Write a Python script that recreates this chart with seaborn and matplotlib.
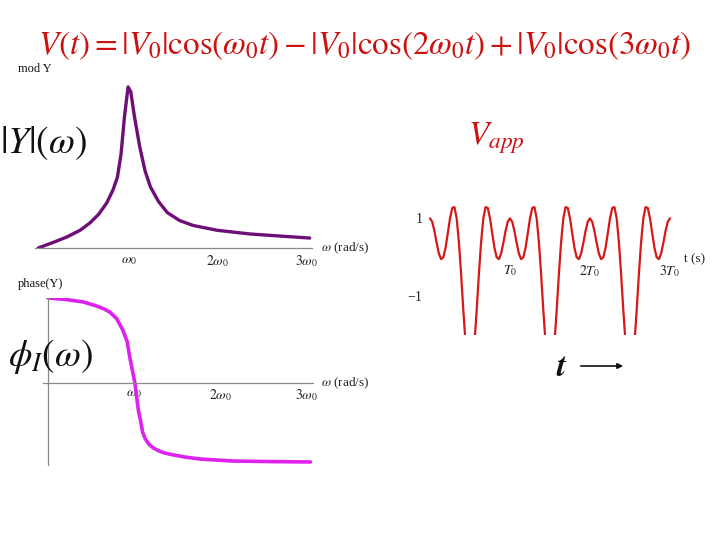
import numpy as np
import pandas as pd
import matplotlib
matplotlib.use("Agg")
import matplotlib.pyplot as plt
import seaborn as sns

sns.set_style("white")
plt.rcParams["mathtext.fontset"] = "stix"
plt.rcParams["font.family"] = ["Liberation Serif", "DejaVu Serif"]

# ---- data ----
omega_mag = [-0.02, 0.15, 0.30, 0.45, 0.56, 0.66, 0.75, 0.82, 0.87, 0.91, 0.95, 0.99,
             1.02, 1.06, 1.12, 1.18, 1.24, 1.33, 1.43, 1.57, 1.72, 1.99, 2.36, 2.70, 3.03]
mag_Y = [0.0, 0.035, 0.068, 0.11, 0.155, 0.21, 0.28, 0.36, 0.44, 0.58, 0.82, 1.0,
         0.97, 0.82, 0.63, 0.48, 0.38, 0.29, 0.22, 0.17, 0.14, 0.11, 0.087, 0.074, 0.062]

omega_phase = [0.0, 0.2, 0.41, 0.55, 0.65, 0.72, 0.80, 0.87, 0.92, 0.95, 0.98, 1.01,
               1.03, 1.05, 1.08, 1.10, 1.13, 1.17, 1.22, 1.28, 1.35, 1.45, 1.60, 1.77,
               2.15, 2.6, 3.05]
phase_Y = [90, 88.5, 85.8, 82, 78.5, 75, 68, 56, 44, 27.5, 14, 0,
           -14, -28.6, -42, -52, -59, -64.5, -68.5, -71.5, -74, -76, -78.5, -80.5,
           -82.6, -83.2, -83.6]

# one period of V_app, sampled every 1/36 of T0
v_period = [1.0, 0.911, 0.674, 0.366, 0.092, -0.050, 0.0, 0.242, 0.613, 1.0, 1.266, 1.290,
            1.0, 0.397, -0.440, -1.366, -2.206, -2.791, -3.0, -2.791, -2.206, -1.366, -0.440,
            0.397, 1.0, 1.290, 1.266, 1.0, 0.613, 0.242, 0.0, -0.050, 0.092, 0.366, 0.674, 0.911]
v_app = v_period * 3 + [1.0]
t_app = list(np.arange(len(v_app)) / 36.0)

omega_ticks = [1, 2, 3]
omega_labels = [r"$\omega_0$", r"$2\omega_0$", r"$3\omega_0$"]
t_ticks = [1, 2, 3]
t_labels = [r"$T_0$", r"$2T_0$", r"$3T_0$"]
v_ticks = [1, -1]
v_labels = ["1", "\u22121"]

W, H = 720, 540
fig = plt.figure(figsize=(7.2, 5.4), dpi=100)

def box(x0, y0, x1, y1):
    return [x0 / W, 1 - y1 / H, (x1 - x0) / W, (y1 - y0) / H]

purple = "#6e0f78"
magenta = "#dd22ee"
red = "#d81818"
axcol = "#8a8a8a"

# ---- |Y| plot ----
ax1 = fig.add_axes(box(35, 80, 312, 248))
sns.lineplot(x=omega_mag, y=mag_Y, ax=ax1, color=purple, linewidth=2.4, estimator=None, sort=False)
ax1.set_xlim(-0.056, 3.056)
ax1.set_ylim(0, 1.043)
for s in ["top", "right", "left"]:
    ax1.spines[s].set_visible(False)
ax1.spines["bottom"].set_color(axcol)
ax1.spines["bottom"].set_linewidth(0.9)
ax1.set_xticks(omega_ticks)
ax1.set_xticklabels(omega_labels, fontsize=10, color="#222222")
ax1.set_yticks([])
ax1.tick_params(axis="x", length=0, pad=4)
ax1.set_xlabel("")
ax1.set_ylabel("")
ax1.patch.set_alpha(0)

# ---- phase plot ----
ax2 = fig.add_axes(box(43, 298, 313, 465))
sns.lineplot(x=omega_phase, y=phase_Y, ax=ax2, color=magenta, linewidth=2.6, estimator=None, sort=False)
ax2.set_xlim(-0.058, 3.08)
ax2.set_ylim(-86.8, 90)
ax2.spines["top"].set_visible(False)
ax2.spines["right"].set_visible(False)
ax2.spines["left"].set_position(("data", 0))
ax2.spines["bottom"].set_position(("data", 0))
for s in ["left", "bottom"]:
    ax2.spines[s].set_color(axcol)
    ax2.spines[s].set_linewidth(0.9)
ax2.set_xticks(omega_ticks)
ax2.set_xticklabels(omega_labels, fontsize=10, color="#222222")
ax2.set_yticks([])
ax2.tick_params(axis="x", length=0, pad=3)
ax2.set_xlabel("")
ax2.set_ylabel("")
ax2.patch.set_alpha(0)

# ---- V_app plot ----
ax3 = fig.add_axes(box(428, 195, 682, 335))
sns.lineplot(x=t_app, y=v_app, ax=ax3, color=red, linewidth=1.6, estimator=None)
ax3.set_xlim(-0.025, 3.15)
ax3.set_ylim(-2.0, 1.6)
ax3.spines["top"].set_visible(False)
ax3.spines["right"].set_visible(False)
ax3.spines["left"].set_color("none")
ax3.spines["bottom"].set_position(("data", 0))
ax3.spines["bottom"].set_color("none")
ax3.set_xticks(t_ticks)
ax3.set_xticklabels(t_labels, fontsize=10, color="#222222")
ax3.set_yticks(v_ticks)
ax3.set_yticklabels(v_labels, fontsize=10, color="#222222")
ax3.tick_params(axis="x", length=3, width=0.6, color="#cccccc", pad=1)
ax3.tick_params(axis="y", length=3, width=0.6, color="#cccccc", pad=1)
ax3.set_xlabel("")
ax3.set_ylabel("")
ax3.patch.set_alpha(0)
ax3.text(3.18, -0.05, "t (s)", fontsize=9.5, color="#222222", ha="left", va="center")

# ---- texts ----
def ftext(x, y, s, **kw):
    fig.text(x / W, 1 - y / H, s, **kw)

ftext(364, 46, r"$V(t)=|V_0|\cos(\omega_0 t)-|V_0|\cos(2\omega_0 t)+|V_0|\cos(3\omega_0 t)$",
      fontsize=23.8, color="#cc1111", ha="center", va="center")
ftext(18, 69, "mod Y", fontsize=9, color="#111111", ha="left", va="center")
ftext(0, 143, r"$|Y|(\omega)$", fontsize=27, color="#111111", ha="left", va="center")
ftext(18, 284, "phase(Y)", fontsize=9, color="#111111", ha="left", va="center")
ftext(8, 356, r"$\phi_I(\omega)$", fontsize=27, color="#111111", ha="left", va="center")
ftext(321, 248, r"$\omega$ (rad/s)", fontsize=9.5, color="#222222", ha="left", va="center")
ftext(321, 383, r"$\omega$ (rad/s)", fontsize=9.5, color="#222222", ha="left", va="center")
ftext(468, 138, r"$V_{app}$", fontsize=24, color="#cc1111", ha="left", va="center")
ftext(562, 368, r"$\boldsymbol{t}$", fontsize=24, color="#111111", ha="center", va="center")
fig.add_artist(matplotlib.patches.FancyArrowPatch((578 / W, 1 - 366 / H), (626 / W, 1 - 366 / H),
               transform=fig.transFigure, arrowstyle="-|>", mutation_scale=8, color="#111111", lw=1.2))

fig.savefig("out.png", dpi=100)
